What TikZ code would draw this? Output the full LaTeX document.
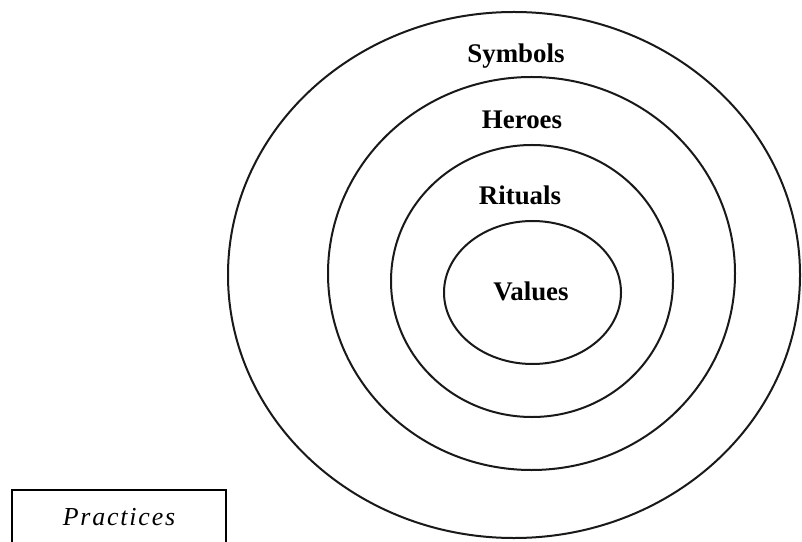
\documentclass[tikz,border=0pt]{standalone}
\usepackage{fontspec}
\setmainfont{Liberation Serif}
\usetikzlibrary{positioning}

\begin{document}
\begin{tikzpicture}[
    x=1bp, y=-1bp,
    ring/.style={line width=2bp, draw=black!90},
    layer/.style={font=\fontsize{27}{32}\selectfont\bfseries, inner sep=0pt},
    pbox/.style={draw, line width=2.4bp, minimum width=214bp, inner xsep=0pt, inner ysep=16bp,
                 text height=19bp, text depth=40bp, font=\fontsize{26}{30}\selectfont\itshape\addfontfeature{LetterSpace=7}}
]
\clip (0,0) rectangle (802,542);
\fill[white] (0,0) rectangle (802,542);

% Onion layers (outer to inner)
\draw[ring] (514,275) ellipse [x radius=286bp, y radius=263bp];
\draw[ring] (531.5,273.5) ellipse [x radius=203.5bp, y radius=196.5bp];
\draw[ring] (532,281) ellipse [x radius=141bp, y radius=136bp];
\draw[ring] (532.5,292.5) ellipse [x radius=88.5bp, y radius=71.5bp];

% Layer names
\node[layer] (symbols) at (516,56)  {Symbols};
\node[layer] (heroes)  at (522,120) {Heroes};
\node[layer] (rituals) at (520,195) {Rituals};
\node[layer] (values)  at (531,291) {Values};

% Legend box
\node[pbox, anchor=north] (practices) at (119,489) {Practices};
\end{tikzpicture}
\end{document}
